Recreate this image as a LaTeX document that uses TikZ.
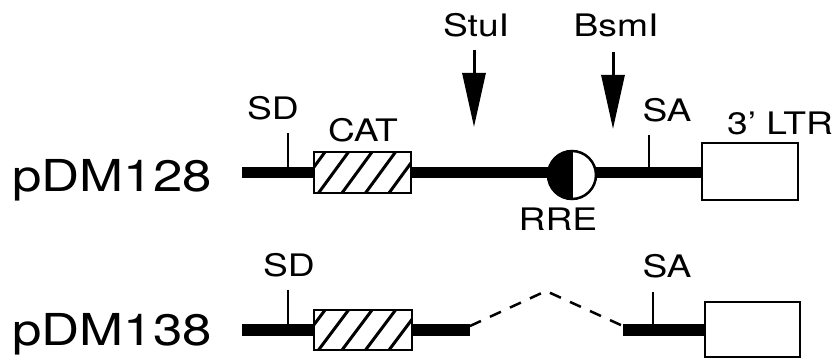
\documentclass[tikz,border=0pt]{standalone}
\usepackage{fontspec}
\setmainfont{TeX Gyre Heros}[FakeStretch=1.2]
\usetikzlibrary{arrows.meta,calc}

\begin{document}
\begin{tikzpicture}[
    x=1pt, y=-1pt,
    lbl/.style={font=\fontsize{31}{31}\selectfont, inner sep=0pt, anchor=base},
    plasmid/.style={font=\fontsize{44}{44}\selectfont, inner sep=0pt, anchor=base west},
    backbone/.style={line width=11pt},
    site/.style={line width=2.5pt},
    gene/.style={draw, line width=2.5pt, fill=white},
    hatch/.style={line width=3pt},
    cut/.style={line width=3pt, -{Triangle[length=54pt, width=23pt]}},
    splice/.style={line width=2.5pt, dash pattern=on 12pt off 10pt}
]
\useasboundingbox (0,0) rectangle (838,363);

% pDM128
\node[plasmid] (p128) at (12,192) {pDM128};
\draw[backbone] (242,173) -- (703,173);

\draw[site] (288,133) -- (288,170);
\node[lbl] (sd128) at (273,120) {SD};

\draw[gene] (314,152) rectangle (411,193);
\begin{scope}
  \clip (314,152) rectangle (411,193);
  \foreach \t in {-1,...,4}
    \draw[hatch] (295+\t*23.5,193) -- (325+\t*23.5,152);
\end{scope}
\draw[site, fill=none] (314,152) rectangle (411,193);
\node[lbl] (cat128) at (363,142) {CAT};

\draw[gene] (572,175) circle (24);
\fill (572,199) arc (90:270:24) -- cycle;
\draw[site] (572,151) -- (572,199);
\node[lbl] (rre) at (558,231) {RRE};

\draw[site] (649,135) -- (649,170);
\node[lbl] (sa128) at (667,122) {SA};

\draw[gene] (702,143) rectangle (798,200);
\node[lbl] (ltr) at (780,135) {3' LTR};

% cut sites
\node[lbl] (stu) at (476,37) {StuI};
\coordinate (stuTop) at (474,50);
\coordinate (stuTip) at (474,127);
\draw[cut] (stuTop) -- (stuTip);

\node[lbl] (bsm) at (616,37) {BsmI};
\coordinate (bsmTop) at (613,52);
\coordinate (bsmTip) at (613,129);
\draw[cut] (bsmTop) -- (bsmTip);

% pDM138
\node[plasmid] (p138) at (12,345) {pDM138};
\coordinate (cutL) at (470,330);
\coordinate (peak) at (546,291);
\coordinate (cutR) at (623,330);
\draw[backbone] (242,330) -- (cutL);
\draw[backbone] (cutR) -- (705,330);

\draw[site] (288,290) -- (288,326);
\node[lbl] (sd138) at (289,277) {SD};

\draw[gene] (314,310) rectangle (412,350);
\begin{scope}
  \clip (314,310) rectangle (412,350);
  \foreach \t in {-1,...,4}
    \draw[hatch] (295+\t*23.5,350) -- (325+\t*23.5,310);
\end{scope}
\draw[site] (314,310) rectangle (412,350);

\draw[splice] ($(cutL)+(0,-4)$) -- (peak) -- ($(cutR)+(0,-4)$);

\draw[site] (653,292) -- (653,326);
\node[lbl] (sa138) at (667,278) {SA};

\draw[gene] (705,302) rectangle (800,357);
\end{tikzpicture}
\end{document}
